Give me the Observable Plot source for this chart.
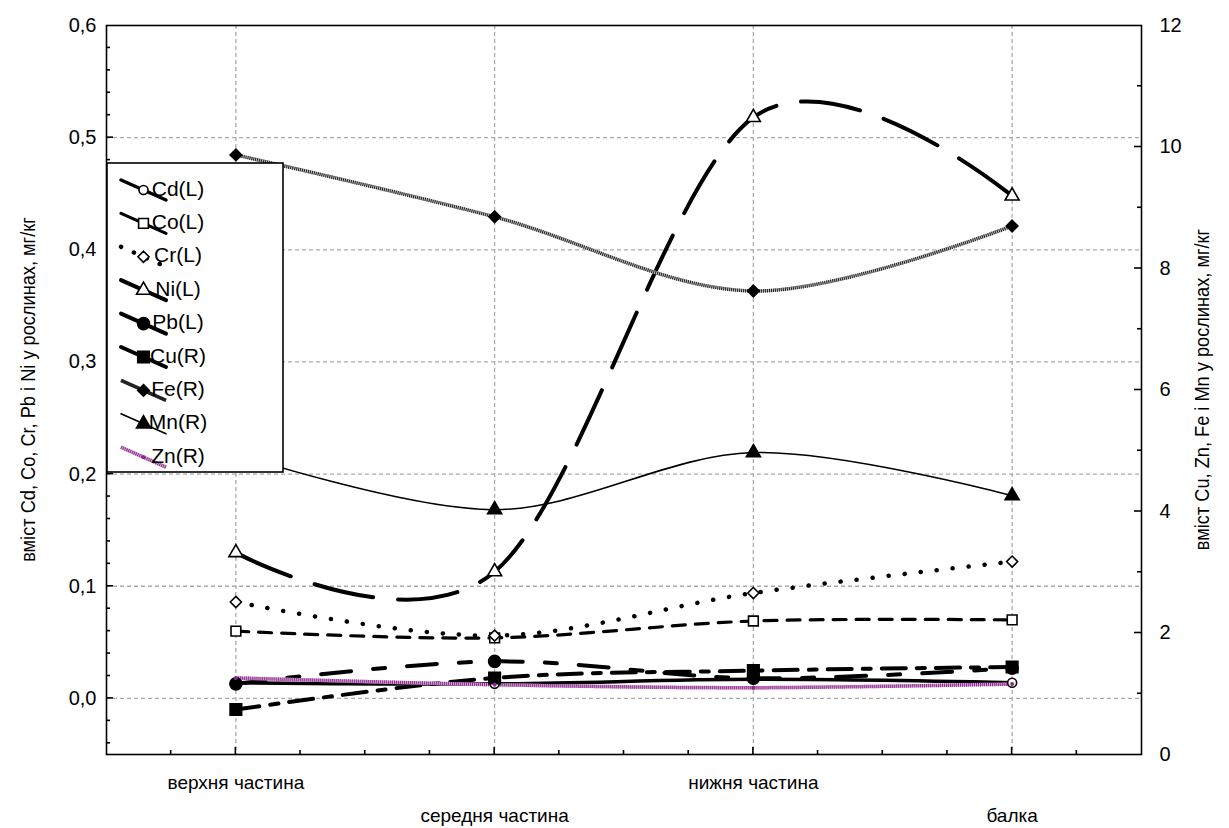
<!DOCTYPE html>
<html><head><meta charset="utf-8">
<script src="https://cdn.jsdelivr.net/npm/d3@7"></script>
<script src="https://cdn.jsdelivr.net/npm/@observablehq/plot@0.6"></script>
<style>body{margin:0;background:#fff}</style>
</head><body><div id="chart"></div>
<script>
// ---- data ----
const categories = ["верхня частина", "середня частина", "нижня частина", "балка"];
const cdL = [0.014, 0.013, 0.017, 0.014];
const coL = [0.060, 0.054, 0.069, 0.070];
const crL = [0.086, 0.056, 0.094, 0.122];
const niL = [0.130, 0.113, 0.518, 0.448];
const pbL = [0.013, 0.033, 0.018, 0.027];
const cuR = [0.74, 1.26, 1.38, 1.44];
const feR = [9.87, 8.85, 7.63, 8.70];
const mnR = [4.95, 4.03, 4.97, 4.26];
const znR = [1.26, 1.15, 1.10, 1.16];
const leftTicks = [0, 0.1, 0.2, 0.3, 0.4, 0.5, 0.6];
const rightTicks = [0, 2, 4, 6, 8, 10, 12];
const leftTitle = "вміст Cd, Co, Cr, Pb і Ni у рослинах, мг/кг";
const rightTitle = "вміст Cu, Zn, Fe і Mn у рослинах, мг/кг";

// right axis (0..12) mapped onto left scale (-0.05..0.6)
const L0 = -0.05, L1 = 0.6, R1 = 12;
const toLeft = r => L0 + r * (L1 - L0) / R1;

const series = [
  {name: "Cd(L)", vals: cdL, side: "L", stroke: "#000", sw: 3.5, dash: null, sym: "circle", fill: "#fff", r: 4.5},
  {name: "Co(L)", vals: coL, side: "L", stroke: "#000", sw: 3.2, dash: "13,10", sym: "square", fill: "#fff", r: 5.5},
  {name: "Cr(L)", vals: crL, side: "L", stroke: "#000", sw: 4.5, dash: "0.1,16", sym: "diamond2", fill: "#fff", r: 5},
  {name: "Ni(L)", vals: niL, side: "L", stroke: "#000", sw: 4, dash: "60,25", sym: "triangle", fill: "#fff", r: 5.2},
  {name: "Pb(L)", vals: pbL, side: "L", stroke: "#000", sw: 4, dash: "30,22,12,22", sym: "circle", fill: "#000", r: 6},
  {name: "Cu(R)", vals: cuR, side: "R", stroke: "#000", sw: 4, dash: "24,11,8,11", sym: "square", fill: "#000", r: 6.5},
  {name: "Fe(R)", vals: feR, side: "R", stroke: "#222", sw: 3.5, dash: "1,1", base: "#bbb", sym: "diamond2", fill: "#000", r: 5.2},
  {name: "Mn(R)", vals: mnR, side: "R", stroke: "#000", sw: 1.6, dash: null, sym: "triangle", fill: "#000", r: 5.2},
  {name: "Zn(R)", vals: znR, side: "R", stroke: "#8e2a8e", sw: 3.5, dash: "1,1", base: "#d6a6d6", sym: "circle", fill: "#8e2a8e", r: 1.2}
];

const rows = s => s.vals.map((v, i) => ({i, v: s.side === "L" ? v : toLeft(v)}));

const W = 1229, H = 828;
const marks = [
  Plot.gridX([0, 1, 2, 3], {stroke: "#aaa", strokeOpacity: 1, strokeDasharray: "4,3", strokeWidth: 1.3}),
  Plot.gridY([0, 0.1, 0.2, 0.3, 0.4, 0.5], {stroke: "#aaa", strokeOpacity: 1, strokeDasharray: "4,3", strokeWidth: 1.3}),
];
for (const s of series) {
  const d = rows(s);
  if (s.base) marks.push(Plot.line(d, {x: "i", y: "v", curve: "cardinal", tension: 0, stroke: s.base, strokeWidth: s.sw}));
  marks.push(Plot.line(d, {x: "i", y: "v", curve: "cardinal", tension: 0, stroke: s.stroke, strokeWidth: s.sw,
    strokeDasharray: s.dash, strokeLinecap: s.base ? "butt" : "round"}));
}
for (const s of series) {
  marks.push(Plot.dot(rows(s), {x: "i", y: "v", symbol: s.sym, r: s.r, fill: s.fill,
    stroke: s.name === "Zn(R)" ? s.stroke : "#000", strokeWidth: 1.6}));
}
marks.push(
  Plot.frame({stroke: "#000", strokeWidth: 1.6}),
  Plot.axisY(leftTicks, {anchor: "left", tickSize: 0, tickPadding: 10, fontSize: 20,
    tickFormat: v => d3.format(".1f")(v).replace(".", ","), label: null}),
  Plot.axisY(rightTicks.map(toLeft), {anchor: "right", tickSize: 0, tickPadding: 18, fontSize: 20,
    tickFormat: v => String(Math.round((v - L0) * R1 / (L1 - L0))), label: null}),
  Plot.axisX([0, 2], {anchor: "bottom", tickSize: 0, tickPadding: 21, fontSize: 19,
    tickFormat: i => categories[i], label: null}),
  Plot.axisX([1, 3], {anchor: "bottom", tickSize: 0, tickPadding: 54, fontSize: 19,
    tickFormat: i => categories[i], label: null})
);

const plot = Plot.plot({
  width: W, height: H,
  marginLeft: 106, marginRight: 88, marginTop: 25, marginBottom: 74,
  x: {type: "linear", domain: [-0.5, 3.5]},
  y: {domain: [L0, L1]},
  style: {fontFamily: "'Liberation Sans', Arial, sans-serif", fontSize: "20px", color: "#000", background: "#fff", overflow: "visible"},
  marks
});
document.getElementById("chart").appendChild(plot);

// ---- inward ticks, titles, legend (positions from Plot scales) ----
const sx = plot.scale("x"), sy = plot.scale("y");
const svg = d3.select(plot);
const g = svg.append("g").attr("stroke", "#000").attr("stroke-width", 1.6);
const xl = sx.apply(-0.5), xr = sx.apply(3.5), yb = sy.apply(L0);
for (let k = -4; k <= 58; k += 2) {
  const v = k / 100, major = k % 10 === 0;
  const yy = sy.apply(v);
  g.append("line").attr("x1", xl).attr("x2", xl + (major ? 7 : 4)).attr("y1", yy).attr("y2", yy);
}
for (let r = 1; r < 12; r++) {
  const yy = sy.apply(toLeft(r)), major = r % 2 === 0;
  g.append("line").attr("x1", xr).attr("x2", xr - (major ? 7 : 4)).attr("y1", yy).attr("y2", yy);
}
for (let q = -1; q <= 13; q++) {
  const xx = sx.apply(q / 4), major = q % 4 === 0;
  g.append("line").attr("x1", xx).attr("x2", xx).attr("y1", yb).attr("y2", yb - (major ? 7 : 4));
}
const midY = (sy.apply(L0) + sy.apply(L1)) / 2;
function title(x, txt) {
  const t = svg.append("text").attr("transform", `translate(${x},${midY}) rotate(-90)`).attr("text-anchor", "middle")
    .attr("dominant-baseline", "middle").attr("font-size", 20).text(txt);
  const len = t.node().getComputedTextLength();
  t.attr("textLength", len * 0.91).attr("lengthAdjust", "spacingAndGlyphs");
}
title(30, leftTitle);
title(1204, rightTitle);

// legend
const lg = svg.append("g");
const bx = 107, by = 163, bw = 176, bh = 309, rowH = 33.4, row0 = 190;
lg.append("rect").attr("x", bx).attr("y", by).attr("width", bw).attr("height", bh)
  .attr("fill", "#fff").attr("stroke", "#000").attr("stroke-width", 1.6);
const symMap = {circle: d3.symbolCircle, square: d3.symbolSquare, diamond2: d3.symbolDiamond2, triangle: d3.symbolTriangle};
series.forEach((s, k) => {
  const cy = row0 + k * rowH;
  const x1 = 121, x2 = 166, dy = 10;
  if (s.base) lg.append("line").attr("x1", x1).attr("y1", cy - dy).attr("x2", x2).attr("y2", cy + dy)
    .attr("stroke", s.base).attr("stroke-width", s.sw);
  lg.append("line").attr("x1", x1).attr("y1", cy - dy).attr("x2", x2).attr("y2", cy + dy)
    .attr("stroke", s.stroke).attr("stroke-width", s.sw)
    .attr("stroke-dasharray", s.name === "Cr(L)" ? "0.1,14" : (s.name === "Zn(R)" ? "1,1" : null))
    .attr("stroke-linecap", s.base ? "butt" : "round");
  lg.append("path").attr("transform", `translate(${(x1 + x2) / 2},${cy})`)
    .attr("d", d3.symbol(symMap[s.sym], Math.PI * s.r * s.r)())
    .attr("fill", s.fill).attr("stroke", s.name === "Zn(R)" ? s.stroke : "#000").attr("stroke-width", 1.6);
  lg.append("text").attr("x", 178).attr("y", cy).attr("dominant-baseline", "middle")
    .attr("font-size", 21).text(s.name);
});
</script></body></html>
